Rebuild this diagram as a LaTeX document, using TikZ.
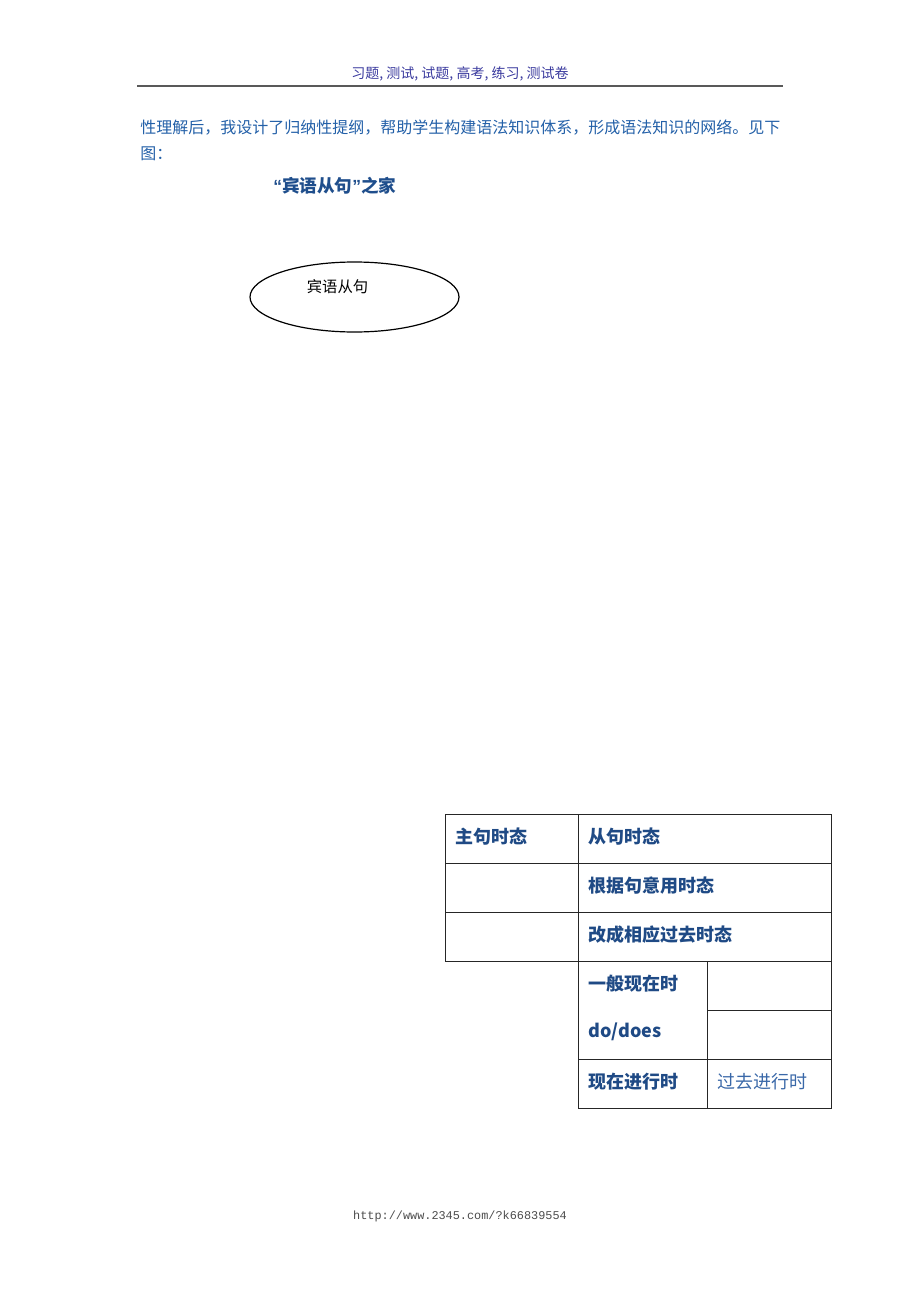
\documentclass[tikz,border=0pt]{standalone}
\usepackage{fontspec}
\usetikzlibrary{shapes.geometric}
\setmainfont{Noto Sans CJK SC}
\newfontfamily\cjk{Noto Sans CJK SC}
\newfontfamily\latinsans{Liberation Sans}
\newfontfamily\webfont{Liberation Mono}
\definecolor{headcol}{HTML}{3A3A9E}
\definecolor{bodycol}{HTML}{2360A8}
\definecolor{titlecol}{HTML}{1F4E8C}
\definecolor{tablecol}{HTML}{1F4A85}
\definecolor{lightcol}{HTML}{3A68A8}

\begin{document}
\begin{tikzpicture}[x=0.75pt,y=-0.75pt]
  \tikzstyle{cell}=[draw=black!85,line width=0.75pt,anchor=north west,inner sep=0pt,minimum height=36.75pt]
  \tikzstyle{celltext}=[anchor=west,inner sep=0pt,text=tablecol,font=\cjk\fontsize{13.5}{16}\selectfont\bfseries]
  \useasboundingbox (0,0) rectangle (920,1302);

  % page head
  \node[text=headcol,font=\cjk\fontsize{10.5}{12}\selectfont] (head) at (460,74) {习题, 测试, 试题, 高考, 练习, 测试卷};
  \coordinate (rule_l) at (137,86);
  \coordinate (rule_r) at (783,86);
  \draw[line width=1.5pt,black!65] (rule_l) -- (rule_r);

  \node[anchor=west,inner sep=0pt,text=bodycol,font=\cjk\fontsize{12}{15}\selectfont] (line_1) at (140,128) {性理解后，我设计了归纳性提纲，帮助学生构建语法知识体系，形成语法知识的网络。见下};
  \node[anchor=west,inner sep=0pt,text=bodycol,font=\cjk\fontsize{12}{15}\selectfont] (line_2) at (140,154) {图：};

  \node[anchor=west,inner sep=0pt,text=titlecol,font=\cjk\fontsize{13.2}{16}\selectfont\bfseries] (title) at (273,186) {{\latinsans\bfseries “}宾语从句{\latinsans\bfseries ”}之家};

  % the ellipse
  \node[draw,ellipse,line width=0.9pt,minimum width=156.75pt,minimum height=52.5pt] (clause) at (354.5,297) {};
  \node[font=\cjk\fontsize{11.5}{14}\selectfont,inner sep=0pt] (clause_t) at (337.5,287) {宾语从句};

  % the table
  \node[cell,minimum width=99.75pt] (T_11) at (445,814) {};
  \node[cell,minimum width=189.75pt] (T_12) at (578,814) {};
  \node[cell,minimum width=99.75pt] (T_21) at (445,863) {};
  \node[cell,minimum width=189.75pt] (T_22) at (578,863) {};
  \node[cell,minimum width=99.75pt] (T_31) at (445,912) {};
  \node[cell,minimum width=189.75pt] (T_32) at (578,912) {};
  \node[cell,minimum width=96.75pt,minimum height=73.5pt] (T_41) at (578,961) {};
  \node[cell,minimum width=93pt] (T_42) at (707,961) {};
  \node[cell,minimum width=93pt] (T_52) at (707,1010) {};
  \node[cell,minimum width=96.75pt] (T_61) at (578,1059) {};
  \node[cell,minimum width=93pt] (T_62) at (707,1059) {};

  \node[celltext] (t_11) at (455,837) {主句时态};
  \node[celltext] (t_12) at (588,837) {从句时态};
  \node[celltext] (t_22) at (588,886) {根据句意用时态};
  \node[celltext] (t_32) at (588,935) {改成相应过去时态};
  \node[celltext] (t_41) at (588,984) {一般现在时};
  \node[celltext] (t_41b) at (588,1032) {do/does};
  \node[celltext] (t_61) at (588,1082) {现在进行时};
  \node[celltext,text=lightcol,font=\cjk\fontsize{13.5}{16}\selectfont] (t_62) at (717,1082) {过去进行时};

  % page foot
  \node[text=black!70,font=\webfont\fontsize{8.9}{11}\selectfont] (foot) at (460,1216) {http://www.2345.com/?k66839554};
\end{tikzpicture}
\end{document}
